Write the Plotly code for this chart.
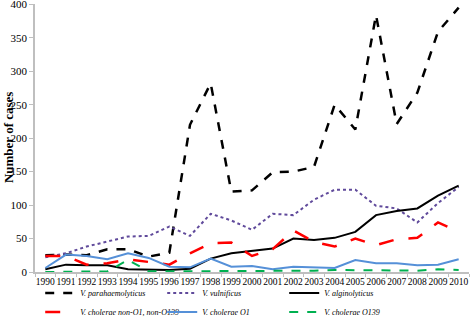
import plotly.graph_objects as go

years = [str(y) for y in range(1990, 2011)]

para = [25, 26, 25, 34, 34, 23, 29, 220, 282, 120, 122, 149, 150, 157, 250, 213, 384, 221, 268, 359, 395]
vulnificus = [22, 28, 38, 45, 53, 54, 68, 54, 87, 77, 63, 87, 85, 108, 123, 123, 99, 95, 74, 103, 127]
alginolyticus = [4, 11, 10, 10, 4, 4, 3, 5, 20, 28, 32, 35, 50, 48, 51, 60, 85, 91, 95, 114, 129]
non_o1 = [24, 24, 11, 13, 19, 15, 11, 28, 43, 44, 24, 34, 62, 45, 38, 50, 40, 49, 51, 74, 60]
o1 = [6, 26, 24, 19, 28, 21, 8, 7, 20, 8, 9, 4, 8, 7, 6, 18, 13, 13, 10, 11, 19]
o139 = [0, 0, 0, 1, 18, 1, 1, 1, 1, 1, 1, 2, 2, 2, 3, 3, 3, 2, 2, 4, 3]

names = ["V. parahaemolyticus", "V. vulnificus", "V. alginolyticus",
         "V. cholerae non-O1, non-O139", "V. cholerae O1", "V. cholerae O139"]
series = [para, vulnificus, alginolyticus, non_o1, o1, o139]
styles = [
    dict(color="black", width=2.5, dash="dash"),
    dict(color="#604a9b", width=2, dash="dot"),
    dict(color="black", width=2, dash="solid"),
    dict(color="#ff0000", width=2.5, dash="longdash"),
    dict(color="#5590d8", width=2, dash="solid"),
    dict(color="#00b050", width=2, dash="dash"),
]

fig = go.Figure()
for n, s, st in zip(names, series, styles):
    fig.add_trace(go.Scatter(x=years, y=s, mode="lines", name=n, line=st))

font = "Liberation Serif, Times New Roman, serif"
fig.update_layout(
    width=471, height=317,
    margin=dict(l=35, r=2, t=4, b=45, autoexpand=False),
    plot_bgcolor="white", paper_bgcolor="white",
    font=dict(family=font, color="black"),
    showlegend=True,
    legend=dict(orientation="h", x=0.012, y=-0.0243, xanchor="left", yanchor="top",
                entrywidth=77, entrywidthmode="pixels", itemwidth=30,
                font=dict(family=font, size=8, style="italic"),
                tracegroupgap=0, bgcolor="rgba(0,0,0,0)"),
    xaxis=dict(type="category", range=[-0.5, 20.5], showline=True, linecolor="#bfbfbf",
               linewidth=1.5, ticks="outside", tickson="boundaries", ticklen=3,
               tickcolor="#bfbfbf", tickangle=0, tickfont=dict(size=9.5),
               showgrid=False, zeroline=False, automargin=False),
    yaxis=dict(range=[0, 400.5], tickvals=[0, 50, 100, 150, 200, 250, 300, 350, 400],
               showline=True, linecolor="#bfbfbf", ticklabeloverflow="allow",
               linewidth=1.5, ticks="outside", ticklen=4, tickcolor="#bfbfbf",
               tickfont=dict(size=11), showgrid=False, zeroline=False,
               automargin=False),
    annotations=[dict(text="<b>Number of cases</b>", textangle=-90, xref="paper", yref="paper",
                      x=-0.062, y=0.5, xanchor="center", yanchor="middle",
                      showarrow=False, font=dict(size=13))],
)

fig.write_html("out.html", config={"displayModeBar": False},
               post_script="document.body.style.margin='0';document.body.style.overflow='hidden';")
